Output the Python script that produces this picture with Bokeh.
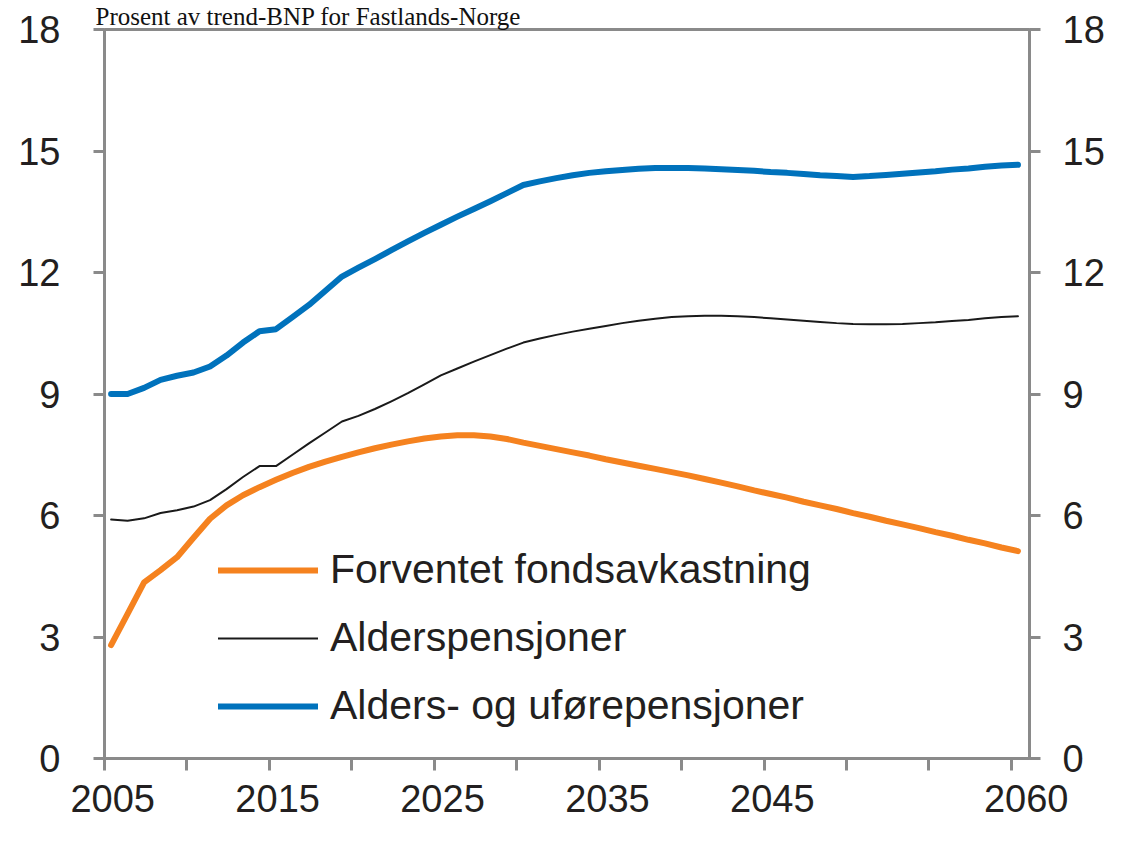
from bokeh.plotting import figure
from bokeh.models import Range1d, LinearAxis, FixedTicker, Legend, LegendItem
from bokeh.embed import file_html
from bokeh.resources import INLINE

# ---------------- data ----------------
years = list(range(2005, 2061))

forventet_fondsavkastning = [
    2.80, 3.57, 4.35, 4.65, 4.97, 5.45, 5.92, 6.25, 6.50, 6.70,
    6.88, 7.05, 7.20, 7.33, 7.45, 7.56, 7.66, 7.75, 7.83, 7.90,
    7.95, 7.98, 7.98, 7.95, 7.89, 7.80, 7.72, 7.64, 7.56, 7.48,
    7.39, 7.31, 7.23, 7.15, 7.07, 6.99, 6.90, 6.81, 6.72, 6.62,
    6.53, 6.44, 6.34, 6.25, 6.16, 6.06, 5.97, 5.87, 5.78, 5.69,
    5.59, 5.50, 5.40, 5.31, 5.21, 5.12,
]

alderspensjoner = [
    5.90, 5.87, 5.93, 6.06, 6.13, 6.22, 6.38, 6.65, 6.95, 7.22,
    7.22, 7.50, 7.78, 8.05, 8.32, 8.46, 8.63, 8.82, 9.02, 9.24,
    9.46, 9.63, 9.80, 9.96, 10.12, 10.27, 10.37, 10.46, 10.54, 10.61,
    10.68, 10.75, 10.81, 10.86, 10.90, 10.92, 10.93, 10.93, 10.92, 10.90,
    10.87, 10.84, 10.81, 10.78, 10.75, 10.73, 10.72, 10.72, 10.73, 10.75,
    10.77, 10.80, 10.83, 10.87, 10.90, 10.92,
]

alders_og_uforepensjoner = [
    9.00, 9.00, 9.15, 9.35, 9.45, 9.53, 9.68, 9.95, 10.27, 10.55,
    10.60, 10.90, 11.20, 11.55, 11.90, 12.12, 12.33, 12.55, 12.77, 12.98,
    13.18, 13.38, 13.57, 13.76, 13.96, 14.16, 14.25, 14.33, 14.40, 14.46,
    14.50, 14.53, 14.56, 14.58, 14.58, 14.58, 14.57, 14.55, 14.53, 14.51,
    14.48, 14.46, 14.43, 14.40, 14.38, 14.36, 14.38, 14.41, 14.44, 14.47,
    14.50, 14.54, 14.57, 14.61, 14.64, 14.66,
]

series_labels = ["Forventet fondsavkastning", "Alderspensjoner", "Alders- og uførepensjoner"]
y_ticks = [0, 3, 6, 9, 12, 15, 18]
x_tick_years = list(range(2005, 2061, 5))
x_label_years = [2005, 2015, 2025, 2035, 2045, 2060]
title_text = "Prosent av trend-BNP for Fastlands-Norge"

# ---------------- styling ----------------
AXIS_GRAY = "#8a8a8a"
TEXT = "#231f20"
ORANGE = "#f5821f"
BLUE = "#0072bc"
BLACK = "#1a1a1a"
SANS = "Liberation Sans"

# each year is drawn in the middle of its yearly slot
x_pos = [y + 0.4 for y in years]

W, H = 1107, 828
p = figure(width=W, height=H, output_backend="svg", toolbar_location=None,
           x_range=Range1d(2005, 2061.1), y_range=Range1d(0, 18),
           x_axis_location=None, y_axis_location=None,
           min_border_left=104, min_border_right=W - 1029,
           min_border_top=28, min_border_bottom=H - 758)
p.background_fill_color = "white"
p.border_fill_color = "white"
p.outline_line_color = AXIS_GRAY
p.outline_line_width = 3
for g in p.grid:
    g.visible = False

# title in the strip above the frame
p.title.text = title_text
p.title.text_font = "Liberation Serif"
p.title.text_font_size = "25px"
p.title.text_font_style = "normal"
p.title.text_color = "#111111"
p.title.align = "left"
p.title.offset = -9
p.title.standoff = 0


def style_y(ax, standoff):
    ax.axis_line_color = AXIS_GRAY
    ax.axis_line_width = 3
    ax.major_tick_line_color = AXIS_GRAY
    ax.major_tick_line_width = 3
    ax.major_tick_in = 0
    ax.major_tick_out = 11
    ax.minor_tick_line_color = None
    ax.major_label_text_font = SANS
    ax.major_label_text_font_size = "38px"
    ax.major_label_text_color = TEXT
    ax.major_label_standoff = standoff


yl = LinearAxis(ticker=FixedTicker(ticks=y_ticks))
style_y(yl, 33)
p.add_layout(yl, "left")

yr = LinearAxis(ticker=FixedTicker(ticks=y_ticks))
style_y(yr, 22)
p.add_layout(yr, "right")

# bottom axis: tick marks at every fifth year
xt = LinearAxis(ticker=FixedTicker(ticks=x_tick_years))
xt.axis_line_color = AXIS_GRAY
xt.axis_line_width = 3
xt.major_tick_line_color = AXIS_GRAY
xt.major_tick_line_width = 3
xt.major_tick_in = 0
xt.major_tick_out = 12
xt.minor_tick_line_color = None
xt.major_label_text_font_size = "1px"
xt.major_label_text_alpha = 0
xt.major_label_standoff = 0
xt.major_label_overrides = {t: "" for t in x_tick_years}
p.add_layout(xt, "below")

# bottom axis: year labels, centred on their yearly slot
label_offsets = [0.5, 0.5, 0.5, 0.5, 0.5, 0.9]
label_pos = [y + o for y, o in zip(x_label_years, label_offsets)]
xl = LinearAxis(ticker=FixedTicker(ticks=label_pos))
xl.axis_line_color = None
xl.major_tick_line_color = None
xl.major_tick_in = 0
xl.major_tick_out = 0
xl.minor_tick_line_color = None
xl.major_label_text_font = SANS
xl.major_label_text_font_size = "38px"
xl.major_label_text_color = TEXT
xl.major_label_standoff = 14
xl.major_label_overrides = {pos: str(y) for pos, y in zip(label_pos, x_label_years)}
p.add_layout(xl, "below")

r1 = p.line(x_pos, forventet_fondsavkastning, line_color=ORANGE, line_width=6,
            line_cap="round", line_join="round")
r2 = p.line(x_pos, alderspensjoner, line_color=BLACK, line_width=2,
            line_cap="round", line_join="round")
r3 = p.line(x_pos, alders_og_uforepensjoner, line_color=BLUE, line_width=6,
            line_cap="round", line_join="round")

legend = Legend(items=[LegendItem(label=series_labels[0], renderers=[r1]),
                       LegendItem(label=series_labels[1], renderers=[r2]),
                       LegendItem(label=series_labels[2], renderers=[r3])],
                location=(114, 29), orientation="vertical",
                glyph_width=100, glyph_height=46, label_height=46,
                label_standoff=12, spacing=21, padding=0, margin=0,
                label_text_font=SANS, label_text_font_size="41px",
                label_text_color=TEXT,
                border_line_color=None, background_fill_alpha=0)
p.add_layout(legend)

open("out.html", "w").write(file_html(p, INLINE))
